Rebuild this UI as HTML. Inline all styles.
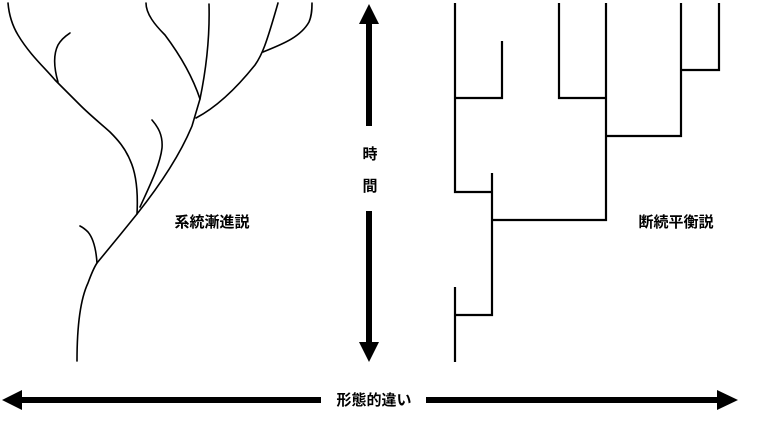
<!DOCTYPE html>
<html><head><meta charset="utf-8"><style>
html,body{margin:0;padding:0;background:#fff;}
svg{display:block;}
text{font-family:"Liberation Sans","Noto Sans CJK JP",sans-serif;font-size:15px;font-weight:bold;fill:#000;}
</style></head><body>
<svg width="768" height="430" viewBox="0 0 768 430" xmlns="http://www.w3.org/2000/svg">
<g fill="none" stroke="#000" stroke-width="1.6" stroke-linecap="round" stroke-linejoin="round">
<path d="M77,361 C77,330 80,300 88,283 C92,272 95,266 97,263 L120,235 L137,214 C160,185 180,155 192,126 L200,99 C206,70 210,40 209,4"/>
<path d="M200,99 C192,75 180,55 165,35 C155,25 146,14 146,3"/>
<path d="M196,118 C215,108 235,90 255,65 C262,55 266,45 278,3"/>
<path d="M263,52 C280,45 300,38 309,22 C312,15 312,8 312,3"/>
<path d="M137,214 C138,195 137,175 130,160 C125,148 118,140 110,132 C100,123 90,115 80,105 C70,95 62,87 55,80 C45,68 30,55 18,35 C12,25 9,15 8,3"/>
<path d="M58,82 C54,68 53,55 58,45 C62,38 67,35 70,33"/>
<path d="M140,207 C150,185 160,165 162,148 C163,135 158,127 152,120"/>
<path d="M97,263 C96,248 93,238 88,232 C85,229 82,227 80,226"/>
</g>
<g fill="none" stroke="#000" stroke-width="2.2">
<path d="M455,3 V192 H492"/>
<path d="M455,98 H502 V41"/>
<path d="M492,173 V315 H455"/>
<path d="M455,287 V362"/>
<path d="M492,220 H606 V3"/>
<path d="M559,3 V98 H606"/>
<path d="M606,136 H681 V3"/>
<path d="M681,70 H719 V3"/>
</g>
<rect x="366" y="22" width="6" height="104" fill="#000"/>
<polygon points="369,4 359,24 379,24" fill="#000"/>
<rect x="366" y="211" width="6" height="133" fill="#000"/>
<polygon points="369,362 359,342 379,342" fill="#000"/>
<text x="370" y="159" text-anchor="middle">時</text>
<text x="370" y="191" text-anchor="middle">間</text>
<rect x="20" y="397" width="301" height="6" fill="#000"/>
<polygon points="2,400 22,390 22,410" fill="#000"/>
<rect x="426" y="397" width="294" height="6" fill="#000"/>
<polygon points="738,400 717,390 717,410" fill="#000"/>
<text x="374" y="405" text-anchor="middle">形態的違い</text>
<text x="212" y="227" text-anchor="middle">系統漸進説</text>
<text x="676" y="227" text-anchor="middle">断続平衡説</text>
</svg>
</body></html>
